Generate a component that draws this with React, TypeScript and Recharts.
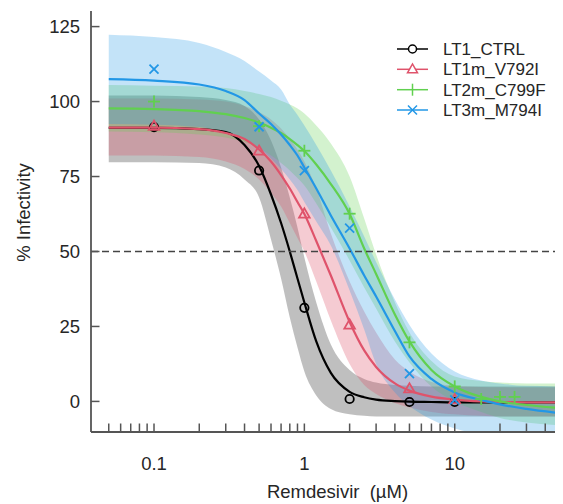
import React from 'react';
import { ComposedChart, Area, Line, Scatter, XAxis, YAxis, ReferenceLine } from 'recharts';

const doseGrid = [0.05, 0.1, 0.2, 0.3, 0.4, 0.5, 0.6, 0.7, 0.8, 0.9, 1, 1.2, 1.5, 2, 2.5, 3, 4, 5, 7, 10, 15, 20, 30, 50];

const ctrlFit = [91.2, 91.2, 90.8, 89.8, 85.5, 78.5, 69, 59.5, 50, 41, 33, 20, 9.5, 3.2, 1.4, 0.6, 0.1, -0.1, -0.2, -0.3, -0.3, -0.3, -0.3, -0.3];
const ctrlLo = [79.8, 79.8, 79.5, 78, 74, 68, 54, 41, 28, 18, 10, 2, -2.5, -4.3, -4.8, -5, -5, -5, -5, -5, -5, -5, -5, -5];
const ctrlHi = [102, 102, 101.5, 100.5, 98.5, 94, 87, 78, 68, 58, 48, 33, 19, 10.5, 7.5, 6.3, 5.5, 5.2, 5, 5, 5, 5, 5, 5];

const v792Fit = [91.3, 91.3, 90.8, 89.5, 87.5, 84, 80, 75.5, 71, 66.5, 62.5, 53.5, 42, 26.5, 17, 11.5, 6, 3.6, 1.6, 0.6, 0, -0.2, -0.3, -0.3];
const v792Lo = [82, 82, 81.5, 80, 77.5, 74, 69.5, 65, 59.5, 54.5, 50, 40, 27, 12.5, 5.5, 2.5, -0.5, -2, -3.5, -4.3, -4.8, -5, -5, -5];
const v792Hi = [101, 101, 100.7, 100, 98.5, 96.5, 94, 91, 87.5, 84, 80, 71, 56, 40, 30, 23, 14, 10, 6.5, 5.2, 4.8, 4.7, 4.6, 4.6];

const c799Fit = [97.7, 97.5, 96.8, 95.8, 94.5, 93, 91.3, 89.5, 87.5, 85.5, 83.5, 79, 72.5, 62.5, 51, 42.5, 29, 20, 10.5, 5, 1.5, 0, -1.2, -2.2];
const c799Lo = [90, 89.8, 89, 88, 86.5, 84.5, 82, 79.5, 77, 74.5, 72, 66, 58, 47, 38, 31, 20, 13, 5, 0, -3.5, -5.5, -7, -8];
const c799Hi = [105.5, 105.3, 105, 104.5, 103.5, 102.5, 101.5, 100.3, 99, 97.7, 96, 92, 86, 75, 61, 49, 33, 23, 13.5, 8.3, 6.8, 6.3, 6, 6];

const m794Fit = [107.5, 107, 105.7, 103.5, 100.5, 96, 92.5, 89, 85.5, 82, 78, 71, 62, 51, 42, 35, 23.5, 15, 7.5, 3, 0.5, -1, -2.5, -3.9];
const m794Lo = [92.5, 92.3, 91.5, 89.8, 87.5, 84.5, 81, 77.5, 74, 70.5, 66.5, 60, 52, 37, 24, 12.5, 3, -1.5, -6, -9, -11, -12, -12.5, -13];
const m794Hi = [122.3, 121.5, 119.5, 116.5, 113.5, 110, 107, 104, 99, 95.5, 92, 85.5, 77, 65, 55, 46.5, 34, 25.5, 16, 10, 7, 6, 5.2, 5];

const ctrlPts = [{ x: 0.1, y: 91.5 }, { x: 0.5, y: 77 }, { x: 1, y: 31.2 }, { x: 2, y: 0.8 }, { x: 5, y: -0.2 }, { x: 10, y: -0.2 }];
const v792Pts = [{ x: 0.1, y: 91.8 }, { x: 0.5, y: 83.5 }, { x: 1, y: 62.5 }, { x: 2, y: 25.5 }, { x: 5, y: 4.2 }, { x: 10, y: 0.6 }];
const c799Pts = [{ x: 0.1, y: 100 }, { x: 0.5, y: 91.8 }, { x: 1, y: 83.6 }, { x: 2, y: 62.6 }, { x: 5, y: 19.7 }, { x: 10, y: 5 }, { x: 15, y: 0.8 }, { x: 20, y: 1.5 }, { x: 25, y: 1.5 }];
const m794Pts = [{ x: 0.1, y: 110.8 }, { x: 0.5, y: 91.6 }, { x: 1, y: 77 }, { x: 2, y: 57.8 }, { x: 5, y: 9.3 }, { x: 10, y: 0.5 }];

const seriesNames = ['LT1_CTRL', 'LT1m_V792I', 'LT2m_C799F', 'LT3m_M794I'];
const seriesColors = ['#000000', '#DF536B', '#61D04F', '#2297E6'];

const xTicks = [0.05, 0.06, 0.07, 0.08, 0.09, 0.1, 0.2, 0.3, 0.4, 0.5, 0.6, 0.7, 0.8, 0.9, 1, 2, 3, 4, 5, 6, 7, 8, 9, 10, 20, 30, 40, 50];
const xLabelValues = [0.1, 1, 10];
const xLabelTexts = ['0.1', '1', '10'];
const yTicks = [0, 25, 50, 75, 100, 125];

const table = doseGrid.map((x, i) => ({
  x,
  ctrl: ctrlFit[i],
  ctrlBand: [ctrlLo[i], ctrlHi[i]],
  v792: v792Fit[i],
  v792Band: [v792Lo[i], v792Hi[i]],
  c799: c799Fit[i],
  c799Band: [c799Lo[i], c799Hi[i]],
  m794: m794Fit[i],
  m794Band: [m794Lo[i], m794Hi[i]],
}));

const FONT = '"Liberation Sans", Arial, Helvetica, sans-serif';
const AXIS = '#555555';
const TEXT = '#262626';

const XTick = (props: any) => {
  const { x, y, payload } = props;
  const v = payload.value;
  const idx = xLabelValues.findIndex((t) => Math.abs(t - v) < 1e-9);
  return (
    <g>
      <line x1={x} x2={x} y1={y} y2={y - 8.5} stroke={AXIS} strokeWidth={1.5} />
      {idx >= 0 && (
        <text x={x} y={y + 38} textAnchor="middle" fontSize={18.5} fontFamily={FONT} fill={TEXT}>
          {xLabelTexts[idx]}
        </text>
      )}
    </g>
  );
};

const YTick = (props: any) => {
  const { x, y, payload } = props;
  return (
    <g>
      <line x1={x} x2={x + 8.5} y1={y} y2={y} stroke={AXIS} strokeWidth={1.5} />
      <text x={x - 11} y={y + 6.5} textAnchor="end" fontSize={18.5} fontFamily={FONT} fill={TEXT}>
        {payload.value}
      </text>
    </g>
  );
};

const Circ = (p: any) => (
  <circle cx={p.cx} cy={p.cy} r={4.2} fill="none" stroke={seriesColors[0]} strokeWidth={1.8} />
);
const Tri = (p: any) => (
  <polygon
    points={`${p.cx - 5.3},${p.cy + 3.6} ${p.cx + 5.3},${p.cy + 3.6} ${p.cx},${p.cy - 5.6}`}
    fill="none"
    stroke={seriesColors[1]}
    strokeWidth={1.8}
  />
);
const Plus = (p: any) => (
  <g stroke={seriesColors[2]} strokeWidth={1.8}>
    <line x1={p.cx - 6} x2={p.cx + 6} y1={p.cy} y2={p.cy} />
    <line x1={p.cx} x2={p.cx} y1={p.cy - 6} y2={p.cy + 6} />
  </g>
);
const Cross = (p: any) => (
  <g stroke={seriesColors[3]} strokeWidth={1.8}>
    <line x1={p.cx - 4.5} x2={p.cx + 4.5} y1={p.cy - 4.5} y2={p.cy + 4.5} />
    <line x1={p.cx - 4.5} x2={p.cx + 4.5} y1={p.cy + 4.5} y2={p.cy - 4.5} />
  </g>
);

const legendShapes = [
  (cx: number, cy: number) => <circle cx={cx} cy={cy} r={4} fill="white" stroke={seriesColors[0]} strokeWidth={1.5} />,
  (cx: number, cy: number) => (
    <polygon points={`${cx - 5},${cy + 3.5} ${cx + 5},${cy + 3.5} ${cx},${cy - 5.3}`} fill="white" stroke={seriesColors[1]} strokeWidth={1.5} />
  ),
  (cx: number, cy: number) => (
    <g stroke={seriesColors[2]} strokeWidth={1.5}>
      <line x1={cx} x2={cx} y1={cy - 6} y2={cy + 6} />
    </g>
  ),
  (cx: number, cy: number) => (
    <g stroke={seriesColors[3]} strokeWidth={1.5}>
      <line x1={cx - 4.5} x2={cx + 4.5} y1={cy - 4.5} y2={cy + 4.5} />
      <line x1={cx - 4.5} x2={cx + 4.5} y1={cy + 4.5} y2={cy - 4.5} />
    </g>
  ),
];

export default function App() {
  const W = 555;
  const H = 496;
  const legendRows = [41, 61.3, 81.7, 102];
  return (
    <div style={{ position: 'relative', width: W, height: H }}>
      <ComposedChart width={W} height={H} data={table} margin={{ top: 3, right: 0, left: 0, bottom: 0 }}>
        <XAxis
          dataKey="x"
          type="number"
          scale="log"
          domain={[0.0381, 52.5]}
          allowDataOverflow
          ticks={xTicks}
          interval={0}
          tickSize={0}
          tickMargin={0}
          tickLine={false}
          tick={<XTick />}
          height={72}
          axisLine={{ stroke: AXIS, strokeWidth: 1.8 }}
        />
        <YAxis
          type="number"
          domain={[-10.2, 130.2]}
          allowDataOverflow
          ticks={yTicks}
          interval={0}
          tickSize={0}
          tickMargin={0}
          tickLine={false}
          tick={<YTick />}
          width={83}
          axisLine={{ stroke: AXIS, strokeWidth: 1.8 }}
        />
        <Area dataKey="ctrlBand" type="monotone" stroke="none" fill="#000000" fillOpacity={0.25} isAnimationActive={false} />
        <Line dataKey="ctrl" type="monotone" stroke={seriesColors[0]} strokeWidth={2.2} dot={false} isAnimationActive={false} />
        <Scatter data={ctrlPts} dataKey="y" shape={Circ} isAnimationActive={false} />
        <Area dataKey="v792Band" type="monotone" stroke="none" fill={seriesColors[1]} fillOpacity={0.3} isAnimationActive={false} />
        <Line dataKey="v792" type="monotone" stroke={seriesColors[1]} strokeWidth={2.2} dot={false} isAnimationActive={false} />
        <Scatter data={v792Pts} dataKey="y" shape={Tri} isAnimationActive={false} />
        <Area dataKey="c799Band" type="monotone" stroke="none" fill={seriesColors[2]} fillOpacity={0.28} isAnimationActive={false} />
        <Line dataKey="c799" type="monotone" stroke={seriesColors[2]} strokeWidth={2.2} dot={false} isAnimationActive={false} />
        <Scatter data={c799Pts} dataKey="y" shape={Plus} isAnimationActive={false} />
        <Area dataKey="m794Band" type="monotone" stroke="none" fill={seriesColors[3]} fillOpacity={0.27} isAnimationActive={false} />
        <Line dataKey="m794" type="monotone" stroke={seriesColors[3]} strokeWidth={2.2} dot={false} isAnimationActive={false} />
        <Scatter data={m794Pts} dataKey="y" shape={Cross} isAnimationActive={false} />
        <ReferenceLine y={50} stroke="#444444" strokeWidth={1.5} strokeDasharray="7 4" />
      </ComposedChart>
      <svg width={W} height={H} style={{ position: 'absolute', left: 0, top: 0, pointerEvents: 'none' }}>
        <text
          x={15.3}
          y={204.5}
          transform="rotate(-90 15.3 204.5)"
          textAnchor="middle"
          dominantBaseline="central"
          fontSize={18.5}
          fontFamily={FONT}
          fill={TEXT}
        >
          % Infectivity
        </text>
        <text x={329.5} y={490} textAnchor="middle" fontSize={18.5} fontFamily={FONT} fill={TEXT} xmlSpace="preserve">
          {'Remdesivir  (\u00B5M)'}
        </text>
        {seriesNames.map((name, i) => (
          <g key={name}>
            <line x1={389} x2={420} y1={legendRows[i]} y2={legendRows[i]} stroke={seriesColors[i]} strokeWidth={1.5} />
            {legendShapes[i](404.5, legendRows[i])}
            <text x={435} y={legendRows[i] + 6} fontSize={17} fontFamily={FONT} fill={TEXT}>
              {name}
            </text>
          </g>
        ))}
      </svg>
    </div>
  );
}
